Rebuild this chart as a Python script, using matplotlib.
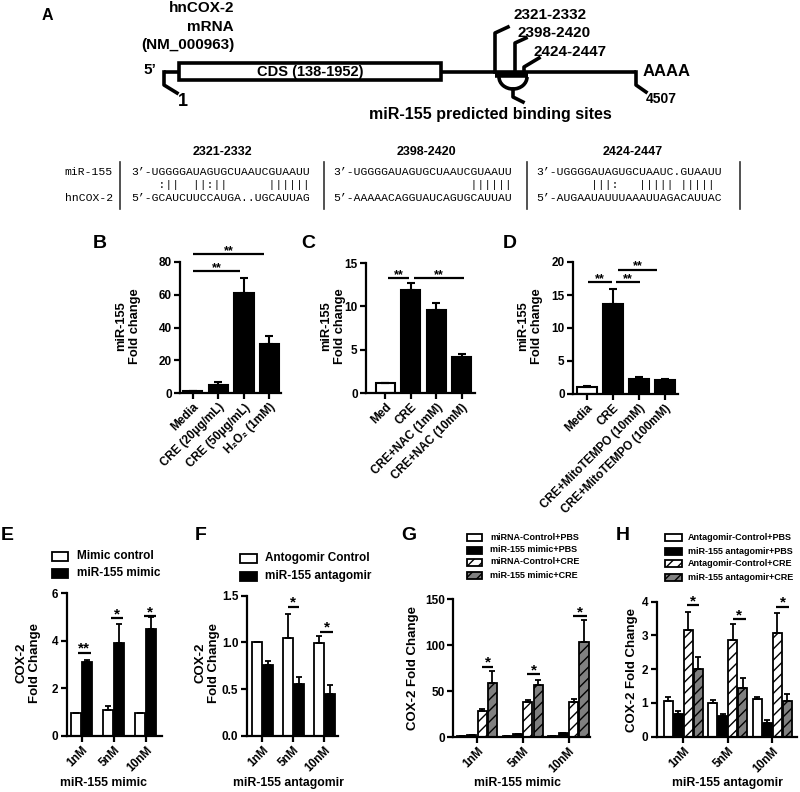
import numpy as np
import matplotlib.pyplot as plt
from matplotlib.patches import Rectangle, Arc
from matplotlib.ticker import FormatStrFormatter

plt.rcParams['font.family'] = ['Liberation Sans', 'DejaVu Sans']
plt.rcParams['font.weight'] = 'bold'
plt.rcParams['hatch.linewidth'] = 1.0
plt.rcParams['axes.linewidth'] = 1.6

W, H = 800, 792

# ---- panel A: transcript map + alignment ----
site_labels = ['2321-2332', '2398-2420', '2424-2447']
mir_seq = ["3’-UGGGGAUAGUGCUAAUCGUAAUU",
           "3’-UGGGGAUAGUGCUAAUCGUAAUU",
           "3’-UGGGGAUAGUGCUAAUC.GUAAUU"]
pairing = ["    :||  ||:||      ||||||",
           "                    ||||||",
           "        |||:   ||||| |||||"]
cox_seq = ["5’-GCAUCUUCCAUGA..UGCAUUAG",
           "5’-AAAAACAGGUAUCAGUGCAUUAU",
           "5’-AUGAAUAUUUAAAUUAGACAUUAC"]

# ---- panels B-D ----
b_labels = ['Media', 'CRE (20μg/mL)', 'CRE (50μg/mL)', 'H₂O₂ (1mM)']
b_mean = [1.0, 5.0, 61.0, 30.0]
b_err = [0.3, 1.6, 9.5, 5.0]
b_fill = ['black', 'black', 'black', 'black']

c_labels = ['Med', 'CRE', 'CRE+NAC (1mM)', 'CRE+NAC (10mM)']
c_mean = [1.1, 11.9, 9.6, 4.2]
c_err = [0.1, 0.8, 0.8, 0.25]
c_fill = ['white', 'black', 'black', 'black']

d_labels = ['Media', 'CRE', 'CRE+MitoTEMPO (10mM)', 'CRE+MitoTEMPO (100mM)']
d_mean = [1.1, 13.7, 2.3, 2.15]
d_err = [0.1, 2.2, 0.2, 0.15]
d_fill = ['white', 'black', 'black', 'black']

# ---- panels E-H ----
doses = ['1nM', '5nM', '10nM']

e_names = ['Mimic control', 'miR-155 mimic']
e_ctrl = [0.95, 1.1, 0.95]
e_ctrl_err = [0.03, 0.15, 0.03]
e_mimic = [3.1, 3.9, 4.5]
e_mimic_err = [0.1, 0.8, 0.5]

f_names = ['Antogomir Control', 'miR-155 antagomir']
f_ctrl = [1.0, 1.05, 0.99]
f_ctrl_err = [0.0, 0.25, 0.08]
f_antag = [0.76, 0.56, 0.45]
f_antag_err = [0.04, 0.07, 0.09]

g_names = ['miRNA-Control+PBS', 'miR-155 mimic+PBS', 'miRNA-Control+CRE', 'miR-155 mimic+CRE']
g_ctrl_pbs = [0.8, 0.8, 0.8]
g_ctrl_pbs_err = [0.2, 0.2, 0.2]
g_mimic_pbs = [2.0, 3.0, 4.0]
g_mimic_pbs_err = [0.3, 0.4, 0.5]
g_ctrl_cre = [28.0, 38.0, 38.0]
g_ctrl_cre_err = [2.0, 2.5, 3.0]
g_mimic_cre = [59.0, 57.0, 103.0]
g_mimic_cre_err = [13.0, 5.0, 24.0]

h_names = ['Antagomir-Control+PBS', 'miR-155 antagomir+PBS', 'Antagomir-Control+CRE', 'miR-155 antagomir+CRE']
h_ctrl_pbs = [1.07, 1.0, 1.12]
h_ctrl_pbs_err = [0.12, 0.08, 0.07]
h_antag_pbs = [0.68, 0.6, 0.4]
h_antag_pbs_err = [0.08, 0.08, 0.1]
h_ctrl_cre = [3.15, 2.88, 3.07]
h_ctrl_cre_err = [0.55, 0.47, 0.6]
h_antag_cre = [2.0, 1.43, 1.05]
h_antag_cre_err = [0.35, 0.3, 0.22]

fills4 = ['white', 'black', 'white', '#808080']
hatch4 = ['', '', '///', '///']


fig = plt.figure(figsize=(W / 100, H / 100), dpi=100)
cv = fig.add_axes([0, 0, 1, 1])
cv.set_xlim(0, W)
cv.set_ylim(H, 0)
cv.axis('off')


def px_axes(left, top, right, bottom):
    ax = fig.add_axes([left / W, 1 - bottom / H, (right - left) / W, (bottom - top) / H])
    ax.patch.set_alpha(0)
    for s in ['top', 'right']:
        ax.spines[s].set_visible(False)
    ax.tick_params(width=1.6, length=4, labelsize=8.5, pad=2)
    return ax


def sig(ax, x0, x1, y, stars, size):
    ax.plot([x0, x1], [y, y], color='black', lw=1.6, clip_on=False, solid_capstyle='butt')
    ax.annotate(stars, ((x0 + x1) / 2, y), xytext=(0, 0), textcoords='offset points',
                ha='center', va='baseline', fontsize=size, annotation_clip=False)


def simple_bars(ax, means, errs, fills, labels, yticks, xlim):
    x = np.arange(len(means))
    ax.bar(x, means, 0.75, color=fills, edgecolor='black', linewidth=1.5, zorder=2)
    ax.errorbar(x, means, yerr=[np.zeros(len(errs)), errs], fmt='none', ecolor='black',
                elinewidth=1.5, capsize=3, capthick=1.5, zorder=3)
    ax.set_xlim(*xlim)
    ax.set_ylim(yticks[0], yticks[-1])
    ax.set_yticks(yticks)
    ax.set_xticks(x)
    ax.set_xticklabels(labels, rotation=45, ha='right', rotation_mode='anchor')


def grouped_bars(ax, series, errs, fills, hatches, step, width, yticks, xlim):
    x = np.arange(len(doses))
    n = len(series)
    for i in range(n):
        off = (i - (n - 1) / 2) * step
        ax.bar(x + off, series[i], width, color=fills[i], hatch=hatches[i],
               edgecolor='black', linewidth=1.3, zorder=2)
        ax.errorbar(x + off, series[i], yerr=[np.zeros(len(doses)), errs[i]], fmt='none',
                    ecolor='black', elinewidth=1.3, capsize=2.5, capthick=1.3, zorder=3)
    ax.set_xlim(*xlim)
    ax.set_ylim(yticks[0], yticks[-1])
    ax.set_yticks(yticks)
    ax.set_xticks(x)
    ax.set_xticklabels(doses, rotation=45, ha='right', rotation_mode='anchor')


# ---------------- Panel A ----------------
lw = 2.6
cv.text(47, 15, 'A', fontsize=11.5, ha='center', va='center')
for txt, yy in zip(['hnCOX-2', 'mRNA', '(NM_000963)'], [8, 27, 45]):
    cv.text(234, yy, txt, fontsize=11, ha='right', va='center')
cv.plot([164, 636], [72, 72], color='black', lw=lw, solid_capstyle='butt')
cv.add_patch(Rectangle((179, 63), 262, 17, facecolor='white', edgecolor='black', lw=lw, zorder=3))
cv.text(310, 72, 'CDS (138-1952)', fontsize=10.5, ha='center', va='center', zorder=4)
cv.text(150, 70, '5’', fontsize=11, ha='center', va='center')
cv.plot([164, 164, 177], [72, 85, 93], color='black', lw=lw)
cv.text(183, 101, '1', fontsize=13, ha='center', va='center')
cv.text(643, 71, 'AAAA', fontsize=12, ha='left', va='center')
cv.plot([636, 636, 646], [72, 85, 92], color='black', lw=lw)
cv.text(646, 99, '4507', fontsize=10, ha='left', va='center')

site_x = [495, 515, 524]
site_top = [33, 43, 67]
site_tip = [(508, 27), (526, 38), (539, 58)]
site_txt = [(513, 15), (518, 33), (533, 52)]
for lab, sx, st, tip, tp in zip(site_labels, site_x, site_top, site_tip, site_txt):
    cv.plot([sx, sx, tip[0]], [72, st, tip[1]], color='black', lw=lw)
    cv.text(tp[0], tp[1], lab, fontsize=11, ha='left', va='center')
cv.plot([495, 528], [75, 75], color='black', lw=4, solid_capstyle='butt')
cv.add_patch(Arc((513, 77), 28, 24, theta1=0, theta2=180, color='black', lw=lw))
cv.plot([513, 513, 523], [89, 97, 102], color='black', lw=lw)
cv.text(490, 115, 'miR-155 predicted binding sites', fontsize=11.5, ha='center', va='center')

# alignment table
col_x = [131, 333, 536]
head_x = [222, 426, 633]
for i in range(3):
    cv.text(head_x[i], 152, site_labels[i], fontsize=9, ha='center', va='center')
    for txt, yy in zip([mir_seq[i], pairing[i], cox_seq[i]], [172, 185, 198]):
        cv.text(col_x[i], yy, txt, fontsize=8.2, fontweight='normal', ha='left', va='center',
                family=['Liberation Mono', 'DejaVu Sans Mono'])
for vx in [120, 324, 527, 740]:
    cv.plot([vx, vx], [162, 209], color='#333333', lw=1.2)
cv.text(113, 172, 'miR-155', fontsize=8.2, fontweight='normal', ha='right', va='center',
        family=['Liberation Mono', 'DejaVu Sans Mono'])
cv.text(113, 198, 'hnCOX-2', fontsize=8.2, fontweight='normal', ha='right', va='center',
        family=['Liberation Mono', 'DejaVu Sans Mono'])

# ---------------- Panels B-D ----------------
axb = px_axes(180, 262, 281, 393)
simple_bars(axb, b_mean, b_err, b_fill, b_labels, [0, 20, 40, 60, 80], (-0.5, 3.45))
sig(axb, 0, 1.85, 74.5, '**', 9)
sig(axb, 0, 2.8, 85, '**', 9)

axc = px_axes(366, 263, 475, 393)
simple_bars(axc, c_mean, c_err, c_fill, c_labels, [0, 5, 10, 15], (-0.75, 3.52))
sig(axc, 0.13, 0.94, 13.3, '**', 9)
sig(axc, 1.14, 3.1, 13.3, '**', 9)

axd = px_axes(573, 262, 678, 394)
simple_bars(axd, d_mean, d_err, d_fill, d_labels, [0, 5, 10, 15, 20], (-0.53, 3.5))
sig(axd, 0.05, 0.98, 17, '**', 9)
sig(axd, 1.13, 2.05, 17, '**', 9)
sig(axd, 1.2, 2.7, 18.85, '**', 9)

for lab, xx in zip(['B', 'C', 'D'], [100, 308, 510]):
    cv.text(xx, 243, lab, fontsize=14, ha='center', va='center')
for xx in [128, 333, 530]:
    cv.text(xx, 326, 'miR-155\nFold change', fontsize=9.3, rotation=90,
            ha='center', va='center', linespacing=1.15)

# ---------------- Panels E-H ----------------
axe = px_axes(66.7, 593, 161.7, 736)
grouped_bars(axe, [e_ctrl, e_mimic], [e_ctrl_err, e_mimic_err], ['white', 'black'], ['', ''],
             0.355, 0.31, [0, 2, 4, 6], (-0.47, 2.5))
sig(axe, -0.11, 0.28, 3.5, '**', 11)
sig(axe, 1 - 0.08, 1.3, 4.95, '*', 11)
sig(axe, 2 - 0.06, 2.33, 5.02, '*', 11)

axf = px_axes(246.7, 595.7, 338, 736)
grouped_bars(axf, [f_ctrl, f_antag], [f_ctrl_err, f_antag_err], ['white', 'black'], ['', ''],
             0.365, 0.32, [0, 0.5, 1.0, 1.5], (-0.5, 2.44))
axf.yaxis.set_major_formatter(FormatStrFormatter('%.1f'))
sig(axf, 1 - 0.18, 1.18, 1.38, '*', 11)
sig(axf, 2 - 0.13, 2.27, 1.115, '*', 11)

axg = px_axes(453, 599, 590, 737)
grouped_bars(axg, [g_ctrl_pbs, g_mimic_pbs, g_ctrl_cre, g_mimic_cre],
             [g_ctrl_pbs_err, g_mimic_pbs_err, g_ctrl_cre_err, g_mimic_cre_err],
             fills4, hatch4, 0.225, 0.2, [0, 50, 100, 150], (-0.525, 2.47))
sig(axg, 0.1, 0.36, 76.5, '*', 11)
sig(axg, 1.1, 1.38, 68.5, '*', 11)
sig(axg, 2.1, 2.4, 131, '*', 11)

axh = px_axes(656.7, 601.7, 797, 736.7)
grouped_bars(axh, [h_ctrl_pbs, h_antag_pbs, h_ctrl_cre, h_antag_cre],
             [h_ctrl_pbs_err, h_antag_pbs_err, h_ctrl_cre_err, h_antag_cre_err],
             fills4, hatch4, 0.224, 0.2, [0, 1, 2, 3, 4], (-0.59, 2.55))
sig(axh, 0.09, 0.36, 3.9, '*', 11)
sig(axh, 1.11, 1.4, 3.48, '*', 11)
sig(axh, 2.09, 2.36, 3.85, '*', 11)

for lab, xx in zip(['E', 'F', 'G', 'H'], [7, 201, 409, 623]):
    cv.text(xx, 535, lab, fontsize=14, ha='center', va='center')
for xx in [28, 207]:
    cv.text(xx, 663, 'COX-2\nFold Change', fontsize=9.5, rotation=90,
            ha='center', va='center', linespacing=1.15)
cv.text(413, 668, 'COX-2 Fold Change', fontsize=9.5, rotation=90, ha='center', va='center')
cv.text(632, 670, 'COX-2 Fold Change', fontsize=9.5, rotation=90, ha='center', va='center')
for txt, xx in zip(['miR-155 mimic', 'miR-155 antagomir', 'miR-155 mimic', 'miR-155 antagomir'],
                   [103, 288, 518, 727]):
    cv.text(xx, 783, txt, fontsize=8.8, ha='center', va='center')


def legend(x0, w, h, tx, ys, names, fills, hatches, size):
    for yy, nm, fc, hc in zip(ys, names, fills, hatches):
        cv.add_patch(Rectangle((x0, yy - h / 2), w, h, facecolor=fc, hatch=hc,
                               edgecolor='black', lw=1.3))
        cv.text(tx, yy, nm, fontsize=size, ha='left', va='center')


legend(52, 16, 9, 77, [556, 573], e_names, ['white', 'black'], ['', ''], 8.5)
legend(240, 17, 9, 265, [558, 576], f_names, ['white', 'black'], ['', ''], 8.5)
legend(467, 15, 7, 490, [537, 550, 562, 575], g_names, fills4, hatch4, 6.5)
legend(665, 17, 7, 688, [537, 551, 563, 577], h_names, fills4, hatch4, 6.5)

plt.savefig('out.png', dpi=100)
